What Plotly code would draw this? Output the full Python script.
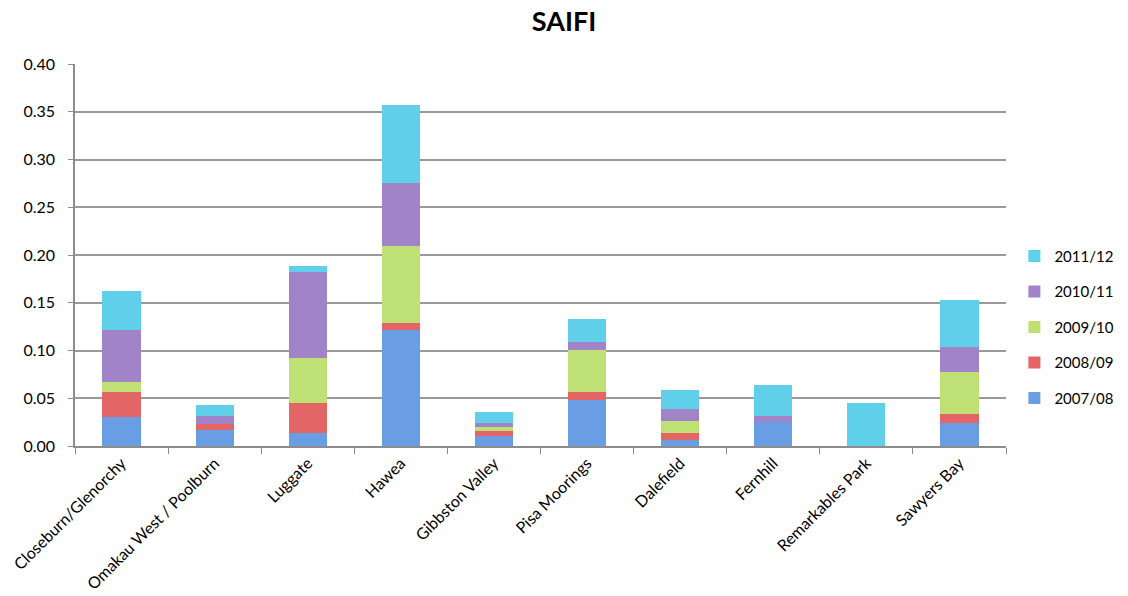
import plotly.graph_objects as go

# Feeder names along the x axis
feeders = [
    "Closeburn/Glenorchy", "Omakau West / Poolburn", "Luggate", "Hawea",
    "Gibbston Valley", "Pisa Moorings", "Dalefield", "Fernhill",
    "Remarkables Park", "Sawyers Bay",
]

# SAIFI contribution per year (stacked bottom to top)
saifi_2007_08 = [0.030, 0.017, 0.014, 0.121, 0.0105, 0.048, 0.0063, 0.0255, 0.0, 0.0245]
saifi_2008_09 = [0.027, 0.0063, 0.031, 0.0074, 0.0052, 0.0084, 0.0077, 0.0, 0.0, 0.0095]
saifi_2009_10 = [0.0105, 0.0, 0.0476, 0.081, 0.0042, 0.0438, 0.0122, 0.0, 0.0, 0.043]
saifi_2010_11 = [0.0536, 0.0084, 0.0896, 0.0662, 0.0038, 0.0087, 0.0126, 0.0056, 0.0, 0.0262]
saifi_2011_12 = [0.041, 0.0116, 0.006, 0.081, 0.0119, 0.0245, 0.020, 0.0326, 0.0455, 0.0494]

years = ["2007/08", "2008/09", "2009/10", "2010/11", "2011/12"]
series = [saifi_2007_08, saifi_2008_09, saifi_2009_10, saifi_2010_11, saifi_2011_12]
colors = ["#6a9ee4", "#e36566", "#bee075", "#a183c8", "#60d0ea"]

y_ticks = [0.0, 0.05, 0.10, 0.15, 0.20, 0.25, 0.30, 0.35, 0.40]
y_tick_text = [f"{v:.2f}" for v in y_ticks]

FONT = "Lato, 'Open Sans', sans-serif"

fig = go.Figure()
n = len(years)
for i, (name, vals, col) in enumerate(zip(years, series, colors)):
    fig.add_trace(go.Bar(
        x=feeders, y=vals, name=name, legendgroup=name,
        legendrank=n - i,  # newest year listed first
        marker=dict(color=col, line=dict(width=0)),
    ))

fig.update_layout(
    barmode="stack",
    bargap=0.59,
    width=1128, height=596,
    margin=dict(l=75, r=122, t=64, b=150, autoexpand=False),
    plot_bgcolor="white", paper_bgcolor="white",
    font=dict(family=FONT, size=16, color="#000000"),
    title=dict(
        text="<b>SAIFI</b>", x=0.5, xref="container", xanchor="center",
        y=1 - 22 / 596, yanchor="middle",
        font=dict(family=FONT, size=27, color="#000000"),
    ),
    legend=dict(
        x=1.009, xanchor="left", y=0.54, yanchor="top",
        traceorder="grouped", tracegroupgap=13,
        font=dict(family=FONT, size=15),
        itemwidth=30,
    ),
    xaxis=dict(
        type="category", tickangle=-45, tickson="boundaries",
        automargin=False,
        ticks="outside", ticklen=6, tickcolor="#8c8c8c", tickwidth=1,
        showline=True, linecolor="#8c8c8c", linewidth=1.5,
        showgrid=False, tickfont=dict(family=FONT, size=16),
    ),
    yaxis=dict(
        range=[0, 0.40], tickvals=y_ticks, ticktext=y_tick_text,
        automargin=False,
        ticks="outside", ticklen=5, tickcolor="#8c8c8c",
        ticklabelstandoff=10,
        showline=True, linecolor="#8c8c8c", linewidth=1.5,
        showgrid=True, gridcolor="#9a9a9a", gridwidth=1.5,
        zeroline=False, tickfont=dict(family=FONT, size=16),
    ),
)

fig.write_html("out.html")
